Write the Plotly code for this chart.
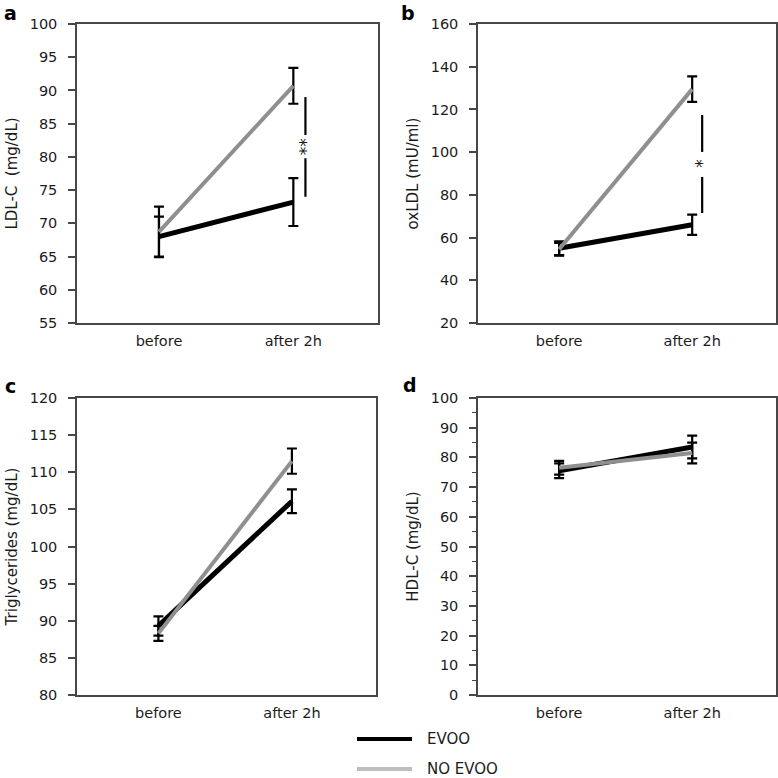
import plotly.graph_objects as go

# ---------------- data ----------------
categories = ["before", "after 2h"]

ldl_evoo = [68.0, 73.2]
ldl_evoo_err = [3.0, 3.6]
ldl_no = [68.7, 90.7]
ldl_no_err = [3.8, 2.7]

oxldl_evoo = [55.0, 66.0]
oxldl_evoo_err = [3.2, 4.7]
oxldl_no = [54.5, 129.5]
oxldl_no_err = [3.0, 6.0]

tg_evoo = [89.3, 106.1]
tg_evoo_err = [1.3, 1.6]
tg_no = [88.3, 111.5]
tg_no_err = [1.0, 1.7]

hdl_evoo = [75.5, 83.5]
hdl_evoo_err = [2.5, 3.8]
hdl_no = [76.5, 81.5]
hdl_no_err = [2.3, 3.5]

# significance brackets: [top, gap top, gap bottom, bottom], label position
sig_a_y = [89.0, 83.3, 79.8, 74.0]
sig_a_label = "**"
sig_a_label_y = 81.5
sig_b_y = [117.4, 100.1, 88.4, 71.5]
sig_b_label = "*"
sig_b_label_y = 94.6

panel_letters = ["a", "b", "c", "d"]
y_titles = ["LDL-C  (mg/dL)", "oxLDL (mU/ml)", "Triglycerides (mg/dL)", "HDL-C (mg/dL)"]
y_ranges = [[55, 100], [20, 160], [80, 120], [0, 100]]
y_dticks = [5, 20, 5, 10]
legend_names = ["EVOO", "NO EVOO"]

# ---------------- styling ----------------
FONT = "DejaVu Sans"
TXT = "#1c1c1c"
AX = "#474747"
BLACK = "#000000"
GRAY = "#8f8f8f"
x_idx = list(range(len(categories)))

series = [
    (ldl_evoo, ldl_evoo_err, ldl_no, ldl_no_err),
    (oxldl_evoo, oxldl_evoo_err, oxldl_no, oxldl_no_err),
    (tg_evoo, tg_evoo_err, tg_no, tg_no_err),
    (hdl_evoo, hdl_evoo_err, hdl_no, hdl_no_err),
]

W = 778.0
x_domains = [[77 / W, 378 / W], [478 / W, 776 / W], [77 / W, 376 / W], [478 / W, 776 / W]]
y_domains = [[1 - 323 / W, 1 - 24 / W], [1 - 323 / W, 1 - 24 / W],
             [1 - 695 / W, 1 - 398 / W], [1 - 695 / W, 1 - 398 / W]]

fig = go.Figure()

for i, (ev, ev_err, no, no_err) in enumerate(series):
    n = "" if i == 0 else str(i + 1)
    xa, ya = "x" + n, "y" + n
    err_style = dict(color=BLACK, thickness=2.2, width=5)
    fig.add_trace(go.Scatter(
        x=x_idx, y=ev, mode="lines", name=legend_names[0], showlegend=False,
        line=dict(color=BLACK, width=5),
        error_y=dict(type="data", array=ev_err, visible=True, **err_style),
        xaxis=xa, yaxis=ya))
    fig.add_trace(go.Scatter(
        x=x_idx, y=no, mode="lines", name=legend_names[1], showlegend=False,
        line=dict(color=GRAY, width=4),
        error_y=dict(type="data", array=no_err, visible=True, **err_style),
        xaxis=xa, yaxis=ya))

    fig.layout["xaxis" + n] = dict(
        domain=x_domains[i], anchor=ya, range=[-0.61, 1.63], automargin=False,
        tickvals=x_idx, ticktext=categories, ticks="", ticklabelstandoff=4,
        showline=True, linecolor=AX, linewidth=1.5, mirror=True,
        showgrid=False, zeroline=False,
        tickfont=dict(family=FONT, size=14.5, color=TXT))
    ymin, ymax = y_ranges[i]
    yax = dict(
        domain=y_domains[i], anchor=xa, range=[ymin, ymax], automargin=False,
        tick0=ymin, dtick=y_dticks[i], ticks="outside", ticklen=7,
        tickcolor=AX, tickwidth=1.5, ticklabelstandoff=8,
        showline=True, linecolor=AX, linewidth=1.5, mirror=True,
        showgrid=False, zeroline=False,
        tickfont=dict(family=FONT, size=14.5, color=TXT),
        title=dict(text=y_titles[i], font=dict(family=FONT, size=15, color=TXT), standoff=8))
    if i == 3:
        yax["minor"] = dict(dtick=5, ticks="outside", ticklen=4, tickcolor=AX, tickwidth=1)
    fig.layout["yaxis" + n] = yax

# significance brackets
for sig_y, lab, lab_y, xa, ya, sx in [
    (sig_a_y, sig_a_label, sig_a_label_y, "x", "y", 1.09),
    (sig_b_y, sig_b_label, sig_b_label_y, "x2", "y2", 1.075),
]:
    fig.add_trace(go.Scatter(
        x=[sx, sx, None, sx, sx], y=[sig_y[0], sig_y[1], None, sig_y[2], sig_y[3]],
        mode="lines", line=dict(color=BLACK, width=2.2), showlegend=False,
        hoverinfo="skip", xaxis=xa, yaxis=ya))
    fig.add_annotation(x=sx, y=lab_y, xref=xa, yref=ya, text=lab, showarrow=False,
                       textangle=-90, font=dict(family=FONT, size=17, color=TXT))

# panel letters
for lt, (px, py) in zip(panel_letters, [(10, 13), (408, 13), (10, 386), (410, 385)]):
    fig.add_annotation(x=px / W, y=1 - py / W, xref="paper", yref="paper", text="<b>%s</b>" % lt,
                       showarrow=False, xanchor="center", yanchor="middle",
                       font=dict(family=FONT, size=19, color=BLACK))

# legend (drawn manually)
for name, color, py in [(legend_names[0], BLACK, 739), (legend_names[1], "#bdbdbd", 769)]:
    fig.add_shape(type="line", xref="paper", yref="paper",
                  x0=357 / W, x1=412 / W, y0=1 - py / W, y1=1 - py / W,
                  line=dict(color=color, width=4))
    fig.add_annotation(x=425 / W, y=1 - py / W, xref="paper", yref="paper", text=name,
                       showarrow=False, xanchor="left", yanchor="middle",
                       font=dict(family=FONT, size=15, color=TXT))

fig.update_layout(
    width=778, height=778, margin=dict(l=0, r=0, t=0, b=0, autoexpand=False),
    paper_bgcolor="white", plot_bgcolor="white", showlegend=False,
    font=dict(family=FONT, color=TXT))

page_fix = (
    "document.documentElement.style.margin='0';"
    "document.body.style.margin='0';document.body.style.padding='0';"
    "document.documentElement.style.overflow='hidden';document.body.style.overflow='hidden';"
)

fig.write_html("out.html", config={"displayModeBar": False}, post_script=page_fix)
